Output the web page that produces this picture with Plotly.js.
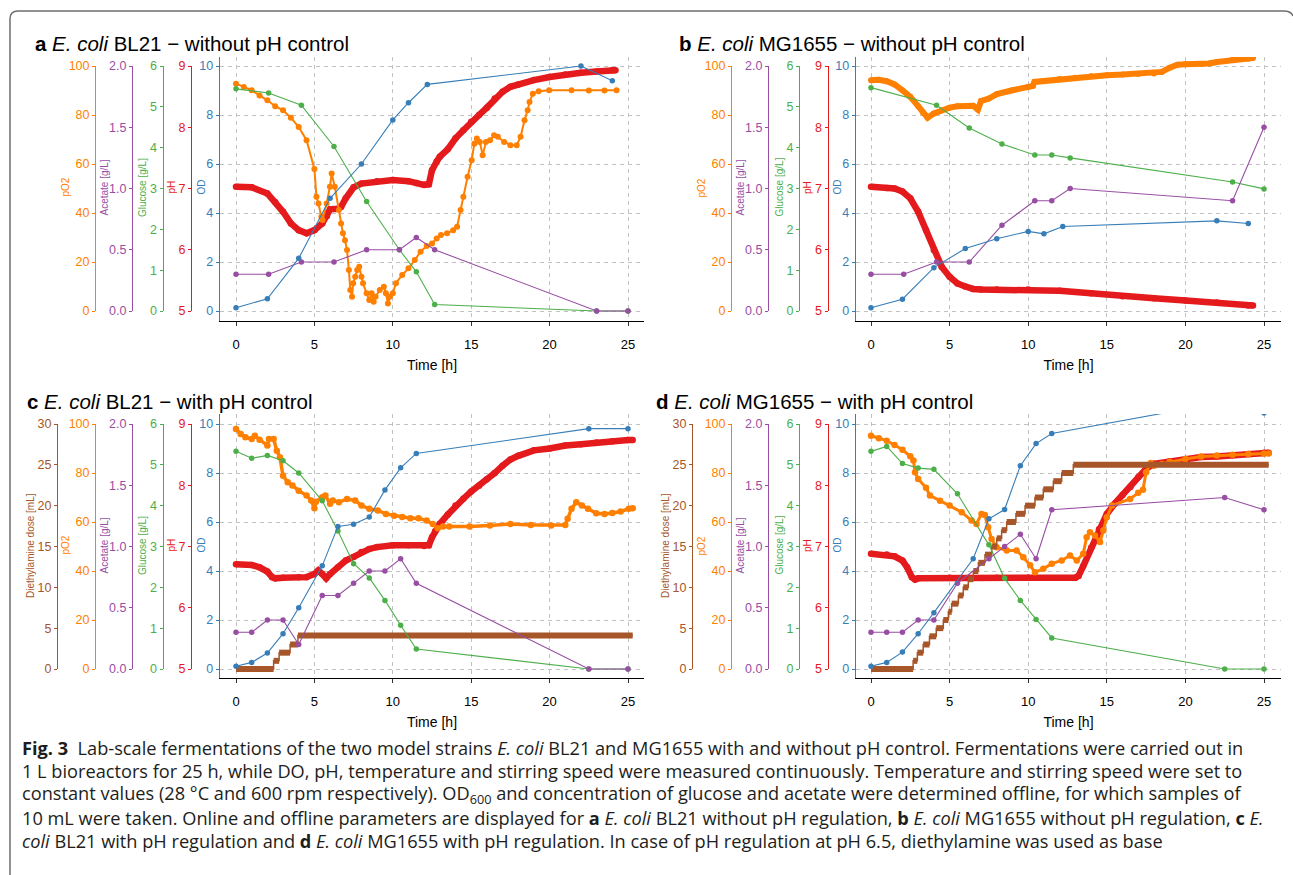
<!DOCTYPE html>
<html><head><meta charset="utf-8">
<script src="https://cdn.plot.ly/plotly-3.0.1.min.js"></script>
<style>html,body{margin:0;padding:0;background:#fff}#chart{width:1293px;height:875px}</style>
</head><body><div id="chart"></div>
<script>
// ---------------- DATA ----------------
// Panel a: E. coli BL21 without pH control
const a_pO2_t = [0,0.5,1,1.5,2,2.5,3,3.5,4,4.5,5,5.13,5.26,5.44,5.52,5.78,5.99,6.1,6.3,6.56,6.7,6.82,6.95,7.08,7.2,7.29,7.4,7.47,7.6,7.73,7.86,8.0,8.1,8.33,8.5,8.65,8.78,8.9,9.17,9.43,9.56,9.69,9.82,10.0,10.2,10.6,11.0,11.4,11.77,12.16,12.5,12.8,13.07,13.46,13.85,14.1,14.32,14.5,14.77,15.03,15.2,15.36,15.55,15.73,15.94,16.2,16.46,16.7,17.1,17.5,17.9,18.15,18.4,18.6,18.72,18.93,19.3,19.97,21.4,22.5,23.5,24.27];
const a_pO2   = [92.8,91.4,90.1,88.0,86.0,83.6,81.9,78.9,75.1,69.7,58.0,46.6,43.9,38.5,37.1,43.9,50.7,56.1,50.7,41.2,35.7,31.7,28.9,24.9,16.7,8.6,5.8,11.3,14.0,16.7,18.1,14.0,11.3,7.2,4.5,7.2,3.8,5.8,8.6,9.9,7.2,3.1,5.8,7.2,11.3,14.7,17.4,20.8,24.2,26.5,27.6,29.6,31.0,31.7,33.0,34.4,41.2,46.6,54.8,61.5,68.3,70.4,69.0,63.6,69.0,69.7,71.7,71.1,69.0,67.7,67.7,71.1,77.9,81.9,85.3,88.7,89.7,90.1,90.1,90.0,90.0,90.1];
const a_pH_t  = [0,1,2,2.5,3,3.5,4,4.5,5,5.5,5.8,6.0,6.5,6.7,7,7.5,8,9,10,11,11.5,12,12.3,12.5,12.8,13,13.5,14,14.5,15,15.5,16,16.5,17,17.5,18,19,20,21,22,23,24,24.2];
const a_pH    = [7.03,7.02,6.92,6.78,6.62,6.43,6.32,6.27,6.32,6.43,6.55,6.66,6.67,6.70,6.84,7.02,7.08,7.12,7.14,7.12,7.09,7.06,7.07,7.30,7.44,7.52,7.64,7.82,7.95,8.09,8.20,8.32,8.47,8.58,8.66,8.70,8.77,8.82,8.86,8.89,8.91,8.93,8.93];
const a_OD_t  = [0,2,4,6,8,10,11,12.2,22,24];
const a_OD    = [0.13,0.5,2.15,4.6,6.0,7.8,8.5,9.25,10.0,9.4];
const a_off_t = [0,2.08,4.17,6.25,8.33,10.42,11.5,12.67,23,25];
const a_glc   = [5.44,5.34,5.04,4.03,2.68,1.5,0.96,0.16,0,0];
const a_ac    = [0.3,0.3,0.4,0.4,0.5,0.5,0.6,0.5,0,0];

// Panel b: E. coli MG1655 without pH control
const b_pO2_t = [0,0.5,1,1.5,2,2.5,3,3.3,3.6,4,4.5,5,5.5,6,6.5,6.8,7,7.5,8,9,10,10.3,10.4,11,12,13,14,15,16,17,18,18.5,19,19.5,20,21,21.5,22,23,24,24.3];
const b_pO2   = [94.2,94.4,93.8,92.5,90.1,87.4,83.6,81.0,78.9,80.6,81.9,83.0,83.6,83.6,83.8,82.2,85.7,86.7,88.5,90.1,91.4,91.9,93.5,93.9,94.7,95.2,95.8,96.2,96.5,96.7,96.9,97.6,99.3,100.5,100.7,100.8,101.0,101.6,102.6,103.1,103.3];
const b_pH_t  = [0,1,1.5,2,2.5,3,3.5,4,4.5,5,5.5,6,6.5,7,8,10,12,14,16,18,20,22,24,24.3];
const b_pH    = [7.03,7.01,7.00,6.95,6.84,6.62,6.32,5.99,5.72,5.56,5.45,5.40,5.36,5.35,5.35,5.35,5.33,5.29,5.24,5.21,5.17,5.14,5.09,5.09];
const b_OD_t  = [0,2,4,6,8,10,11,12.2,22,24];
const b_OD    = [0.13,0.48,1.77,2.55,2.95,3.25,3.15,3.45,3.68,3.57];
const b_glc_t = [0,4.17,6.25,8.33,10.42,11.5,12.67,23,25];
const b_glc   = [5.47,5.04,4.48,4.09,3.82,3.82,3.75,3.16,2.99];
const b_ac_t  = [0,2.08,4.17,6.25,8.33,10.42,11.5,12.67,23,25];
const b_ac    = [0.3,0.3,0.4,0.4,0.7,0.9,0.9,1.0,0.9,1.5];

// Panel c: E. coli BL21 with pH control
const c_pO2_t = [0,0.3,0.6,1,1.2,1.5,2,2.1,2.4,2.6,2.8,3,3.3,3.6,4,4.5,4.8,5,5.1,5.5,5.7,6.0,6.17,6.56,7.08,7.6,8.0,8.5,9.04,9.56,10.08,10.6,11.12,11.64,12.16,12.55,12.86,13.2,13.6,14.9,16.2,17.5,18.8,20.1,21.0,21.15,21.4,21.7,22.06,22.45,22.97,23.5,24.0,24.53,25.05,25.3];
const c_pO2   = [98.0,95.9,94.6,93.9,95.2,93.6,91.2,93.9,93.9,89.1,86.4,78.9,76.2,74.9,72.8,70.8,68.8,65.6,68.3,70.1,70.8,67.4,68.8,68.1,69.4,68.8,66.7,65.4,64.7,63.3,62.6,62.0,61.5,61.5,60.6,59.2,57.5,58.2,58.2,58.2,58.6,59.2,58.8,58.6,58.8,61.3,65.4,68.1,66.7,65.4,63.6,63.3,63.7,64.3,65.4,65.6];
const c_pH_t  = [0,1,1.5,2,2.3,2.5,3,4,4.5,5,5.25,5.5,5.75,6,6.5,7,7.5,8,8.5,9,10,11,12,12.3,12.5,12.7,13,13.5,14,14.5,15,15.5,16,16.5,17,17.5,18,19,20,21,22,23,24,25,25.3];
const c_pH    = [6.71,6.70,6.66,6.59,6.50,6.48,6.49,6.50,6.50,6.55,6.61,6.55,6.48,6.55,6.66,6.77,6.83,6.91,6.96,6.99,7.02,7.02,7.01,7.02,7.15,7.25,7.37,7.52,7.67,7.78,7.90,7.99,8.10,8.20,8.32,8.42,8.48,8.57,8.60,8.65,8.67,8.70,8.72,8.74,8.74];
const c_dose_t = [0,2.4,2.75,3.45,3.95,25.3];
const c_dose   = [0,1,2,3,4.1,4.1];
const c_off_t = [0,1,2,3,4,5.5,6.5,7.5,8.5,9.5,10.5,11.5,22.5,25];
const c_OD    = [0.11,0.27,0.65,1.44,2.5,4.21,5.82,5.91,6.2,7.31,8.21,8.8,9.81,9.81];
const c_glc   = [5.33,5.16,5.23,5.10,4.80,4.12,3.38,2.58,2.23,1.68,1.07,0.49,0,0];
const c_ac    = [0.3,0.3,0.4,0.4,0.2,0.6,0.6,0.7,0.8,0.8,0.9,0.7,0,0];

// Panel d: E. coli MG1655 with pH control
const d_pO2_t = [0,0.5,1,1.5,2,2.5,2.7,2.8,3,3.5,3.75,4.39,5.0,5.77,6.4,6.71,7.03,7.24,7.45,7.67,7.99,8.63,9.26,9.69,10.12,10.43,10.96,11.5,12.13,12.66,13.09,13.5,13.72,13.93,14.25,14.57,14.78,15.0,15.32,16.48,17.0,17.3,17.5,17.8,18,18.5,19,20,21,22,23,24,25,25.3];
const d_pO2   = [95.2,94.2,93.2,91.4,89.5,86.8,85.1,80.3,77.6,74.0,70.8,68.7,66.7,64.0,60.6,59.2,63.3,62.9,57.9,53.1,49.7,48.4,48.4,45.6,42.3,39.5,40.9,43.0,44.3,46.3,44.3,47.0,53.8,55.8,54.5,51.8,56.5,61.9,66.7,69.4,71.9,73.2,80.3,84.1,83.0,83.7,84.6,85.7,86.7,87.1,87.5,87.8,88.0,88.0];
const d_pH_t  = [0,1,1.5,2,2.3,2.6,2.8,3,5,8,10,13,13.2,13.5,14,14.5,15,15.5,16,16.5,17,17.5,18,19,20,21,22,23,24,25,25.3];
const d_pH    = [6.88,6.87,6.84,6.77,6.66,6.50,6.46,6.48,6.49,6.49,6.49,6.49,6.52,6.68,6.98,7.28,7.53,7.70,7.84,7.97,8.13,8.27,8.35,8.39,8.43,8.46,8.47,8.49,8.51,8.53,8.53];
const d_dose_t = [0,2.68,2.95,3.32,3.72,4.15,4.6,4.92,5.13,5.56,5.87,6.19,6.51,6.83,7.25,7.68,8.0,8.31,8.63,9.22,9.8,10.43,10.96,11.6,12.13,12.87,25.3];
const d_dose   = [0,1,2,3,4,5,6,7,8,9,10,11,12,13,14,15,16,17,18,19,20,21,22,23,24,25,25];
const d_OD_t  = [0,1,2,3,4,6.5,7.5,8.5,9.5,10.5,11.5,22.5,25];
const d_OD    = [0.11,0.27,0.69,1.44,2.3,4.5,6.13,6.51,8.3,9.2,9.61,10.9,10.45];
const d_off_t = [0,1,2,3,4,5.5,7.5,8.5,9.5,10.5,11.5,22.5,25];
const d_glc   = [5.33,5.45,5.03,4.92,4.89,4.29,3.04,2.22,1.68,1.21,0.76,0,0];
const d_ac    = [0.3,0.3,0.3,0.4,0.4,0.7,0.9,1.0,1.1,0.9,1.3,1.4,1.3];

// Axis labels and texts
const axisTitles = {dose:'Diethylamine dose [mL]', pO2:'pO2', ac:'Acetate [g/L]', glc:'Glucose [g/L]', pH:'pH', od:'OD'};
const axisMax    = {dose:30, pO2:100, ac:2, glc:6, pH:9, od:10};
const axisMin    = {dose:0, pO2:0, ac:0, glc:0, pH:5, od:0};
const axisStep   = {dose:5, pO2:20, ac:0.5, glc:1, pH:1, od:2};
const xTitle = 'Time [h]';
const panelTitles = [
  '<b>a</b> <i>E. coli</i> BL21 − without pH control',
  '<b>b</b> <i>E. coli</i> MG1655 − without pH control',
  '<b>c</b> <i>E. coli</i> BL21 − with pH control',
  '<b>d</b> <i>E. coli</i> MG1655 − with pH control'
];
const captionLines = [
  '<b>Fig. 3</b>\u00a0\u00a0Lab-scale fermentations of the two model strains <i>E. coli</i> BL21 and MG1655 with and without pH control. Fermentations were carried out in',
  '1 L bioreactors for 25 h, while DO, pH, temperature and stirring speed were measured continuously. Temperature and stirring speed were set to',
  'constant values (28 °C and 600 rpm respectively). OD<sub>600</sub> and concentration of glucose and acetate were determined offline, for which samples of',
  '10 mL were taken. Online and offline parameters are displayed for <b>a</b> <i>E. coli</i> BL21 without pH regulation, <b>b</b> <i>E. coli</i> MG1655 without pH regulation, <b>c</b> <i>E.</i>',
  '<i>coli</i> BL21 with pH regulation and <b>d</b> <i>E. coli</i> MG1655 with pH regulation. In case of pH regulation at pH 6.5, diethylamine was used as base'
];

// ---------------- LAYOUT / STYLE ----------------
const W = 1293, H = 875;
const fx = px => px / W, fy = py => 1 - py / H;
const COL = {pO2:'#FF7F00', ac:'#984EA3', glc:'#4DAF4A', pH:'#E41A1C', od:'#377EB8', dose:'#A65628'};
const FONT = 'Liberation Sans, Arial, Helvetica, sans-serif';
const GRID = '#c2c2c2';
// distance (px) from each axis line to the centre of its rotated title
const titleGap = {dose:26.5, pO2:30, ac:28, glc:20, pH:20, od:19};

const panels = [
  {xPx:[220,644], t0Px:236, t25Px:628, yPx:[57,321], od0Px:311, od10Px:66, titleXY:[33,43],
   axPos:{pO2:95, ac:132, glc:162.5, pH:191},
   series:{pH:[a_pH_t,a_pH], pO2:[a_pO2_t,a_pO2], glc:[a_off_t,a_glc], ac:[a_off_t,a_ac], od:[a_OD_t,a_OD]},
   pO2style:{mode:'lines+markers', lw:2, ms:6}},
  {xPx:[856,1281], t0Px:871, t25Px:1264, yPx:[57,321], od0Px:311, od10Px:66, titleXY:[677,43],
   axPos:{pO2:731, ac:768, glc:799, pH:827.5},
   series:{pH:[b_pH_t,b_pH], pO2:[b_pO2_t,b_pO2], glc:[b_glc_t,b_glc], ac:[b_ac_t,b_ac], od:[b_OD_t,b_OD]},
   pO2style:{mode:'lines+markers', lw:6, ms:6}},
  {xPx:[220,644], t0Px:236, t25Px:628, yPx:[414,678], od0Px:669, od10Px:424, titleXY:[25,401],
   axPos:{dose:57, pO2:95, ac:132, glc:162.5, pH:191},
   series:{pH:[c_pH_t,c_pH], pO2:[c_pO2_t,c_pO2], dose:[c_dose_t,c_dose], glc:[c_off_t,c_glc], ac:[c_off_t,c_ac], od:[c_off_t,c_OD]},
   pO2style:{mode:'lines+markers', lw:3.5, ms:6.5}},
  {xPx:[856,1281], t0Px:871, t25Px:1264, yPx:[414,678], od0Px:669, od10Px:424, titleXY:[654,401],
   axPos:{dose:692, pO2:731, ac:768, glc:799, pH:827.5},
   series:{pH:[d_pH_t,d_pH], pO2:[d_pO2_t,d_pO2], dose:[d_dose_t,d_dose], glc:[d_off_t,d_glc], ac:[d_off_t,d_ac], od:[d_OD_t,d_OD]},
   pO2style:{mode:'lines+markers', lw:3, ms:6.5}}
];

const scale = {pO2:10, ac:0.2, glc:0.6, pH:0.4, dose:3, od:1};
const offset = {pO2:0, ac:0, glc:0, pH:5, dose:0, od:0};

const layout = {
  width:W, height:H, margin:{l:0,r:0,t:0,b:0},
  paper_bgcolor:'#ffffff', plot_bgcolor:'rgba(0,0,0,0)',
  showlegend:false, font:{family:FONT, color:'#000'},
  annotations:[], shapes:[],
  xaxis5:{visible:false, domain:[0,1], range:[0,1]}
};
const traces = [];
let yCount = 0;
const yId = n => n === 1 ? 'y' : 'y' + n;
const yName = n => n === 1 ? 'yaxis' : 'yaxis' + n;

function yTitle(key, xLine, yMid) {
  layout.annotations.push({xref:'paper', yref:'paper', x:fx(xLine - titleGap[key]), y:fy(yMid),
    xanchor:'center', yanchor:'middle', textangle:-90, showarrow:false, text:axisTitles[key],
    font:{size:10, color:COL[key], family:FONT}});
}

panels.forEach((p, pi) => {
  const xi = pi + 1;
  const xid = xi === 1 ? 'x' : 'x' + xi;
  const xname = xi === 1 ? 'xaxis' : 'xaxis' + xi;
  const pxPerH = (p.t25Px - p.t0Px) / 25;
  const xr = [(p.xPx[0] - p.t0Px) / pxPerH, (p.xPx[1] - p.t0Px) / pxPerH];
  const pxPerOD = (p.od0Px - p.od10Px) / 10;
  const r0 = (p.od0Px - p.yPx[1]) / pxPerOD, r1 = (p.od0Px - p.yPx[0]) / pxPerOD;
  const yMid = (p.od0Px + p.od10Px) / 2 - 1;

  const mainN = ++yCount;
  layout[xname] = {
    domain:[fx(p.xPx[0]), fx(p.xPx[1])], anchor:yId(mainN), range:xr,
    tick0:0, dtick:5, ticks:'outside', ticklen:4, tickwidth:1, tickcolor:'#333',
    tickfont:{size:13, color:'#000', family:FONT}, ticklabelstandoff:7,
    showline:true, linecolor:'#000', linewidth:1.3,
    showgrid:true, gridcolor:GRID, griddash:'4px,4px', gridwidth:1, zeroline:false,
    title:{text:xTitle, font:{size:14, color:'#000', family:FONT}, standoff:9}
  };
  layout[yName(mainN)] = {
    domain:[fy(p.yPx[1]), fy(p.yPx[0])], anchor:xid, range:[r0, r1],
    tick0:0, dtick:2, ticks:'outside', ticklen:3, tickcolor:COL.od,
    tickfont:{size:12.5, color:COL.od, family:FONT},
    showline:true, linecolor:COL.od, linewidth:1.3,
    showgrid:true, gridcolor:GRID, griddash:'4px,4px', gridwidth:1, zeroline:false
  };
  yTitle('od', p.xPx[0], yMid);
  traces.push({type:'scatter', x:[], y:[], xaxis:xid, yaxis:yId(mainN), hoverinfo:'skip'});

  // data layers (draw order = axis order)
  ['pH','pO2','dose','glc','ac','od'].forEach(key => {
    const s = p.series[key];
    if (!s) return;
    const n = ++yCount;
    layout[yName(n)] = {overlaying:yId(mainN), anchor:xid, visible:false,
      range:[offset[key] + scale[key]*r0, offset[key] + scale[key]*r1], showgrid:false, zeroline:false};
    const base = {type:'scatter', xaxis:xid, yaxis:yId(n), hoverinfo:'skip'};
    if (key === 'pH') {
      traces.push(Object.assign({}, base, {x:s[0], y:s[1], mode:'lines+markers',
        line:{color:COL.pH, width:6.5}, marker:{color:COL.pH, size:6.5}}));
    } else if (key === 'pO2') {
      traces.push(Object.assign({}, base, {x:s[0], y:s[1], mode:p.pO2style.mode,
        line:{color:COL.pO2, width:p.pO2style.lw}, marker:{color:COL.pO2, size:p.pO2style.ms}}));
    } else if (key === 'dose') {
      const t = s[0], v = s[1];
      const sx = [], sy = [];
      for (let i = 0; i < t.length - 1; i++) { sx.push(t[i], t[i+1], null); sy.push(v[i], v[i], null); }
      traces.push(Object.assign({}, base, {x:t, y:v, mode:'lines', line:{color:COL.dose, width:1.5, shape:'hv'}}));
      traces.push(Object.assign({}, base, {x:sx, y:sy, mode:'lines', connectgaps:false, line:{color:COL.dose, width:6}}));
    } else {
      traces.push(Object.assign({}, base, {x:s[0], y:s[1], mode:'lines+markers',
        line:{color:COL[key], width:1.1}, marker:{color:COL[key], size:5.5}}));
    }
  });

  // separate visible axes for the secondary scales
  ['dose','pO2','ac','glc','pH'].forEach(key => {
    if (p.axPos[key] === undefined) return;
    const n = ++yCount;
    layout[yName(n)] = {
      domain:[fy(p.od0Px), fy(p.od10Px)], anchor:'free', position:fx(p.axPos[key]), side:'left',
      range:[axisMin[key], axisMax[key]], tick0:axisMin[key], dtick:axisStep[key],
      tickformat: key === 'ac' ? '.1f' : '', ticks:'outside', ticklen:3, tickcolor:COL[key],
      tickfont:{size:12.5, color:COL[key], family:FONT},
      showline:true, linecolor:COL[key], linewidth:1.3, showgrid:false, zeroline:false
    };
    yTitle(key, p.axPos[key], yMid);
    traces.push({type:'scatter', x:[], y:[], xaxis:'x5', yaxis:yId(n), hoverinfo:'skip'});
  });

  layout.annotations.push({xref:'paper', yref:'paper', x:fx(p.titleXY[0]), y:fy(p.titleXY[1]),
    xanchor:'left', yanchor:'middle', showarrow:false, text:panelTitles[pi],
    font:{size:20.5, color:'#000', family:FONT}});
});

// caption
const capY = [748, 771, 794, 817.5, 840.5];
captionLines.forEach((txt, i) => {
  layout.annotations.push({xref:'paper', yref:'paper', x:fx(21), y:fy(capY[i]), xanchor:'left', yanchor:'middle',
    showarrow:false, borderpad:0, text:txt, font:{size:18.2, color:'#1d1d1b', family:'Open Sans, Noto Sans, sans-serif'}});
});

// figure frame (rounded border)
const P = (x, y) => fx(x).toFixed(5) + ',' + fy(y).toFixed(5);
layout.shapes.push({type:'path', xref:'paper', yref:'paper', layer:'below',
  path:'M' + P(10,875) + ' L' + P(10,19) + ' Q' + P(10,11) + ' ' + P(18,11) + ' L' + P(1284,11) + ' Q' + P(1291,11) + ' ' + P(1293,16),
  line:{color:'#6e6e6e', width:1.5}});

Plotly.newPlot('chart', traces, layout, {staticPlot:true, displayModeBar:false});
</script>
</body></html>
